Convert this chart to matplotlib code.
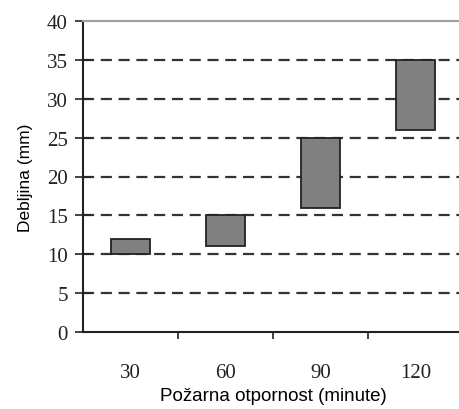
import matplotlib.pyplot as plt
import numpy as np

# podaci
kategorije = ['30', '60', '90', '120']
donja = [10, 11, 16, 26]     # donja granica debljine (mm)
gornja = [12, 15, 25, 35]    # gornja granica debljine (mm)

x = np.arange(len(kategorije))
visina = np.array(gornja) - np.array(donja)

fig = plt.figure(figsize=(4.59, 4.10), dpi=100)
ax = fig.add_axes([83/459, 77/410, 380/459, 311/410])

# isprekidane linije mreže
for y in range(5, 40, 5):
    ax.axhline(y, color='#333333', lw=1.6, ls=(0, (5, 3)), zorder=1)

ax.bar(x, visina, bottom=donja, width=0.42, color='#808080',
       edgecolor='#222222', linewidth=1.3, zorder=3)

ax.set_xlim(-0.5, 3.5)
ax.set_ylim(0, 40)
ax.set_yticks(range(0, 41, 5))
ax.set_xticks(x)
ax.set_xticklabels(kategorije)
ax.set_xticks([0.5, 1.5, 2.5], minor=True)
ax.tick_params(axis='both', labelsize=15, labelcolor='#222222', labelfontfamily='Liberation Serif')
ax.tick_params(axis='x', which='major', length=0, pad=22)
ax.tick_params(axis='x', which='minor', direction='out', length=5, width=1.2, color='#222222')
ax.tick_params(axis='y', direction='inout', length=12, width=1.2, color='#222222', pad=5)

ax.spines['left'].set_linewidth(1.5)
ax.spines['left'].set_color('#222222')
ax.spines['bottom'].set_linewidth(1.5)
ax.spines['bottom'].set_color('#222222')
ax.spines['top'].set_color('#a0a0a0')
ax.spines['top'].set_linewidth(1.5)
ax.spines['right'].set_visible(False)

ax.set_xlabel('Požarna otpornost (minute)', family='Liberation Sans', fontsize=13.5, labelpad=4)
ax.set_ylabel('Debljina (mm)', family='Liberation Sans', fontsize=12.5, labelpad=10)

fig.savefig('out.png', dpi=100)
